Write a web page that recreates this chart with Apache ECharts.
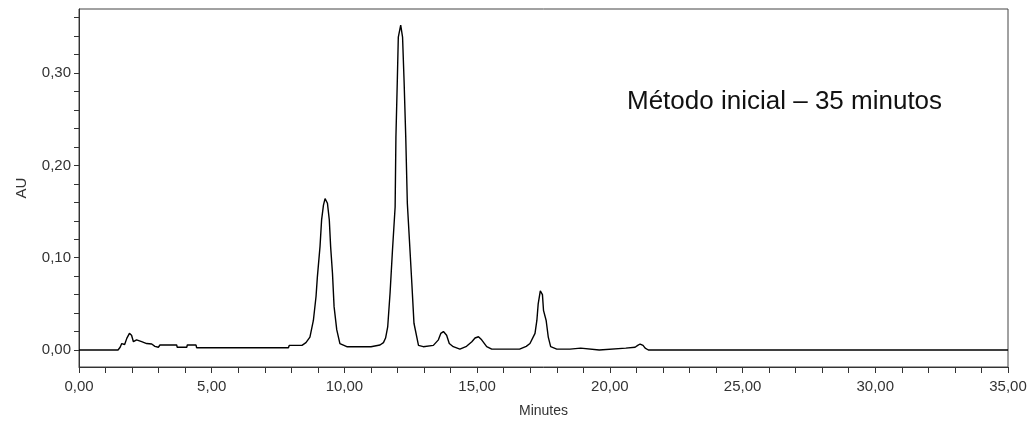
<!DOCTYPE html>
<html>
<head>
<meta charset="utf-8">
<script src="https://cdn.jsdelivr.net/npm/echarts@6/dist/echarts.min.js"></script>
<style>html,body{margin:0;padding:0;background:#fff;}#c{width:1034px;height:421px;}</style>
</head>
<body>
<div id="c"></div>
<script>
const times = [0,1.47,1.55,1.61,1.67,1.72,1.80,1.90,1.98,2.05,2.17,2.36,2.55,2.74,2.86,2.99,3.05,3.68,3.70,4.06,4.08,4.41,4.43,7.89,7.92,8.10,8.12,8.40,8.55,8.70,8.83,8.93,8.98,9.08,9.14,9.21,9.27,9.36,9.43,9.48,9.55,9.61,9.71,9.83,10.09,10.78,10.80,11.00,11.34,11.47,11.55,11.63,11.72,11.81,11.91,11.94,11.99,12.03,12.12,12.19,12.25,12.31,12.37,12.47,12.54,12.62,12.79,12.97,13.35,13.54,13.63,13.73,13.85,13.95,14.10,14.35,14.60,14.80,14.92,15.05,15.17,15.36,15.55,16.60,16.85,16.99,17.18,17.25,17.30,17.38,17.42,17.46,17.50,17.60,17.68,17.77,18.00,18.50,18.55,18.90,18.92,19.60,19.63,20.60,20.95,21.05,21.14,21.25,21.33,21.45,35];
const au = [0,0,0.003,0.007,0.009,0.006,0.0126,0.018,0.016,0.009,0.011,0.009,0.007,0.0065,0.004,0.003,0.0054,0.0054,0.003,0.003,0.0054,0.0054,0.0025,0.0025,0.005,0.005,0.0036,0.005,0.008,0.014,0.032,0.058,0.079,0.112,0.141,0.157,0.164,0.159,0.141,0.112,0.083,0.047,0.022,0.007,0.0036,0.0036,0.0025,0.0036,0.0054,0.008,0.013,0.025,0.062,0.108,0.155,0.231,0.289,0.339,0.352,0.339,0.289,0.231,0.159,0.108,0.072,0.029,0.005,0.0036,0.005,0.011,0.018,0.020,0.016,0.007,0.0036,0.001,0.004,0.009,0.013,0.0144,0.011,0.0036,0.001,0.001,0.004,0.007,0.018,0.032,0.050,0.064,0.066,0.060,0.043,0.032,0.014,0.0036,0.001,0.001,0.002,0.002,0.0,0.0,0.002,0.002,0.003,0.005,0.0065,0.005,0.002,0.0,0];
const xTicks = [0,1,2,3,4,5,6,7,8,9,10,11,12,13,14,15,16,17,18,19,20,21,22,23,24,25,26,27,28,29,30,31,32,33,34,35];
const xLabels = [0,5,10,15,20,25,30,35];
const yTicks = [0,0.02,0.04,0.06,0.08,0.10,0.12,0.14,0.16,0.18,0.20,0.22,0.24,0.26,0.28,0.30,0.32,0.34,0.36];
const yLabels = [0,0.10,0.20,0.30];
const xTitle = 'Minutes';
const yTitle = 'AU';
const note = 'Método inicial – 35 minutos';

const data = times.map((t, i) => [t, au[i]]);
const fmt = v => v.toFixed(2).replace('.', ',');
const axisCol = '#333';
const ff = 'Liberation Sans, Arial, sans-serif';
const chart = echarts.init(document.getElementById('c'), null, {renderer: 'canvas'});
chart.setOption({
  animation: false,
  backgroundColor: '#fff',
  grid: {left: 79, right: 26, top: 9, bottom: 54, containLabel: false, outerBoundsMode: 'none', show: true, borderColor: '#444', borderWidth: 1, backgroundColor: 'transparent'},
  xAxis: {
    type: 'value', min: 0, max: 35,
    name: xTitle, nameLocation: 'middle', nameGap: 37,
    nameTextStyle: {fontFamily: ff, fontSize: 14, color: axisCol},
    axisLine: {show: true, onZero: false, lineStyle: {color: '#333', width: 1}},
    axisTick: {show: true, inside: false, length: 6, customValues: xTicks, lineStyle: {color: '#333'}},
    axisLabel: {customValues: xLabels, formatter: fmt, margin: 12, fontFamily: ff, fontSize: 15, color: axisCol},
    splitLine: {show: false}
  },
  yAxis: {
    type: 'value', min: -0.0184, max: 0.3694,
    name: yTitle, nameLocation: 'middle', nameGap: 50, nameRotate: 90,
    nameTextStyle: {fontFamily: ff, fontSize: 15, color: axisCol},
    axisLine: {show: true, onZero: false, lineStyle: {color: '#333', width: 1}},
    axisTick: {show: true, inside: false, length: 5, customValues: yTicks, lineStyle: {color: '#333'}},
    axisLabel: {customValues: yLabels, formatter: fmt, margin: 8, fontFamily: ff, fontSize: 15, color: axisCol},
    splitLine: {show: false}
  },
  graphic: [{
    type: 'text', left: 627, top: 89,
    style: {text: note, fontFamily: ff, fontSize: 26, fill: '#111'}
  }],
  series: [{
    type: 'line', data: data, showSymbol: false, symbol: 'none',
    lineStyle: {color: '#000', width: 1.4}, clip: true
  }]
});
</script>
</body>
</html>
